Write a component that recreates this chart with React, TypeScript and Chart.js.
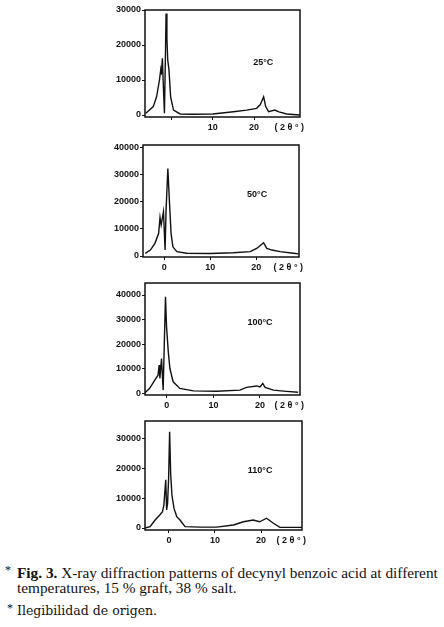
import React, { useEffect, useRef } from "react";
import { Chart, registerables } from "chart.js";

Chart.register(...registerables);

// ---- data (2θ in degrees, intensity in counts) ----
const xTicks = [0, 10, 20];
const yTicks30 = [0, 10000, 20000, 30000];
const yTicks40 = [0, 10000, 20000, 30000, 40000];

const t25X = [-6.2, -4.4, -3.6, -2.9, -2.6, -2.45, -2.2, -1.95, -1.7, -1.5, -1.3, -1.1, -0.9, -0.6, -0.2, 0.5, 2.1, 5, 10, 15, 18.2, 20.6, 21.5, 22.3, 22.8, 23.5, 25, 26, 27.9, 31];
const t25Y = [500, 2400, 5200, 10000, 12900, 11500, 16200, 8000, 500, 14000, 29000, 22000, 15700, 12900, 5200, 1400, 300, 200, 300, 950, 1400, 1900, 3000, 5200, 2400, 950, 1400, 900, 300, 0];

const t50X = [-4.1, -3, -2, -1.2, -0.9, -0.65, -0.15, 0.2, 0.4, 0.8, 1.2, 1.5, 1.9, 2.75, 4.9, 10, 15, 18.7, 20.1, 21.6, 22.3, 23.4, 25.2, 28.1, 29.2];
const t50Y = [1000, 2200, 4700, 8400, 14300, 11500, 16400, 2200, 16400, 32400, 18300, 8400, 3400, 1600, 1000, 900, 1200, 1600, 2800, 4900, 2800, 2200, 1600, 1000, 800];

const t100X = [-4.7, -3.7, -2.6, -1.9, -1.65, -1.5, -1.15, -0.8, -0.3, -0.07, 0.3, 0.65, 1.35, 2.8, 5.7, 10.7, 15.7, 17.1, 19.3, 20, 20.6, 21.1, 22.9, 25.7, 28.2];
const t100Y = [100, 1900, 5300, 7300, 11400, 6000, 14100, 1200, 39300, 27000, 16900, 10000, 4600, 1900, 900, 700, 1200, 2300, 2900, 2500, 3900, 2300, 1200, 700, 300];

const t110X = [-5.2, -4.1, -3, -2, -1.4, -1.1, -0.7, -0.5, -0.3, -0.07, 0.15, 0.37, 0.65, 1.1, 1.7, 2.4, 3.5, 6.7, 10.4, 14, 16.2, 18.3, 19.7, 21.2, 22.7, 24.1, 28.9];
const t110Y = [0, 450, 2700, 4400, 5500, 7700, 16200, 6100, 8300, 16700, 32400, 18400, 11100, 6600, 3800, 2700, 450, 300, 300, 1000, 2100, 2700, 2100, 3300, 1600, 200, 200];

const tempLabels = ["25°C", "50°C", "100°C", "110°C"];
const tempLabelX = [22.2, 20.2, 20, 19.8];
const tempLabelY = [15100, 22600, 28600, 19500];
const axisUnit = "( 2 θ ° )";

// ---- layout ----
const PANELS = [
  { xs: t25X, ys: t25Y, yt: yTicks30, box: [145, 300, 10, 117], xr: [-6.4, 31.1], yr: [-570, 30000], hideZero: true },
  { xs: t50X, ys: t50Y, yt: yTicks40, box: [143, 299, 145, 257], xr: [-4.6, 29.3], yr: [-370, 41100], hideZero: false },
  { xs: t100X, ys: t100Y, yt: yTicks40, box: [145, 300, 283, 395], xr: [-4.7, 28.6], yr: [-800, 44900], hideZero: false },
  { xs: t110X, ys: t110Y, yt: yTicks30, box: [145, 302, 421, 530], xr: [-5.2, 28.9], yr: [-670, 36000], hideZero: false },
];

const YW = 50;
const PADT = 8;
const PADR = 38;
const XH = 20;
const TICK_FONT = { family: '"Liberation Sans", Arial, sans-serif', size: 9, weight: "bold" as const };

const framePlugin = {
  id: "frame",
  afterDraw(chart: any, _args: any, opts: any) {
    const { ctx, chartArea: a, scales } = chart;
    ctx.save();
    ctx.strokeStyle = "#111";
    ctx.lineWidth = 1.5;
    ctx.strokeRect(a.left, a.top, a.right - a.left, a.bottom - a.top);
    ctx.fillStyle = "#111";
    ctx.font = 'bold 9px "Liberation Sans", Arial, sans-serif';
    ctx.textAlign = "center";
    ctx.textBaseline = "middle";
    ctx.fillText(opts.label, scales.x.getPixelForValue(opts.lx), scales.y.getPixelForValue(opts.ly));
    ctx.textAlign = "right";
    ctx.textBaseline = "top";
    ctx.fillText(axisUnit, a.right + 4, a.bottom + 6);
    ctx.restore();
  },
};

function Panel({ idx }: { idx: number }) {
  const ref = useRef<HTMLCanvasElement>(null);
  const p = PANELS[idx];
  const [bl, br, bt, bb] = p.box;
  const W = br - bl + YW + PADR;
  const H = bb - bt + PADT + XH;
  useEffect(() => {
    if (!ref.current) return;
    const chart = new Chart(ref.current, {
      type: "line",
      data: {
        datasets: [
          {
            data: p.xs.map((x, i) => ({ x, y: p.ys[i] })),
            borderColor: "#111",
            borderWidth: 1.4,
            pointRadius: 0,
            tension: 0,
            fill: false,
          },
        ],
      },
      options: {
        animation: false,
        responsive: false,
        maintainAspectRatio: false,
        layout: { padding: { top: PADT, right: PADR, left: 0, bottom: 0 } },
        plugins: {
          legend: { display: false },
          tooltip: { enabled: false },
          frame: { label: tempLabels[idx], lx: tempLabelX[idx], ly: tempLabelY[idx] },
        } as any,
        scales: {
          x: {
            type: "linear",
            min: p.xr[0],
            max: p.xr[1],
            afterBuildTicks: (s: any) => {
              s.ticks = xTicks.map((v) => ({ value: v }));
            },
            afterFit: (s: any) => {
              s.height = XH;
            },
            grid: { drawOnChartArea: false, drawTicks: true, tickLength: 3, color: "#111", lineWidth: 1 },
            border: { display: false },
            ticks: {
              autoSkip: false,
              maxRotation: 0,
              padding: 2,
              color: "#111",
              font: TICK_FONT,
              callback: (v: any) => (p.hideZero && v === 0 ? "" : String(v)),
            },
          },
          y: {
            type: "linear",
            min: p.yr[0],
            max: p.yr[1],
            afterBuildTicks: (s: any) => {
              s.ticks = p.yt.map((v) => ({ value: v }));
            },
            afterFit: (s: any) => {
              s.width = YW;
            },
            grid: { drawOnChartArea: false, drawTicks: true, tickLength: 3, color: "#111", lineWidth: 1 },
            border: { display: false },
            ticks: { autoSkip: false, padding: 1, color: "#111", font: TICK_FONT, callback: (v: any) => String(v) },
          },
        },
      },
      plugins: [framePlugin],
    });
    return () => chart.destroy();
  }, []);
  return (
    <canvas
      ref={ref}
      width={W}
      height={H}
      style={{ position: "absolute", left: bl - YW, top: bt - PADT, width: W, height: H }}
    />
  );
}

export default function App() {
  const serif = '"Liberation Serif", "Times New Roman", serif';
  return (
    <div style={{ position: "absolute", left: 0, top: 0, width: 444, height: 627, background: "#fff" }}>
      {PANELS.map((_, i) => (
        <Panel key={i} idx={i} />
      ))}
      <div style={{ position: "absolute", left: 5, top: 563, fontFamily: serif, fontSize: 12, color: "#111" }}>*</div>
      <div
        style={{
          position: "absolute",
          left: 17,
          top: 565,
          width: 430,
          fontFamily: serif,
          fontSize: 15.3,
          lineHeight: "15px",
          color: "#111",
          whiteSpace: "nowrap",
        }}
      >
        <b>Fig. 3.</b> X-ray diffraction patterns of decynyl benzoic acid at different
        <br />
        temperatures, 15 % graft, 38 % salt.
      </div>
      <div style={{ position: "absolute", left: 7, top: 601, fontFamily: serif, fontSize: 12, color: "#111" }}>*</div>
      <div
        style={{
          position: "absolute",
          left: 17,
          top: 603,
          fontFamily: '"DejaVu Serif", serif',
          fontSize: 12.5,
          lineHeight: "15px",
          color: "#111",
          whiteSpace: "nowrap",
        }}
      >
        Ilegibilidad de origen.
      </div>
    </div>
  );
}
